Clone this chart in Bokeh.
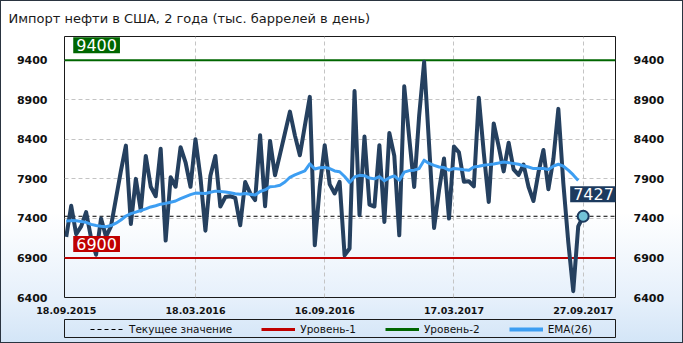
from bokeh.plotting import figure
from bokeh.layouts import column
from bokeh.models import Range1d, LinearAxis, FixedTicker, Legend, LegendItem, Label, Title, Span
from bokeh.embed import file_html
from bokeh.resources import INLINE

title_text = "Импорт нефти в США, 2 года (тыс. баррелей в день)"
tick_labels = ["18.09.2015", "18.03.2016", "16.09.2016", "17.03.2017", "27.09.2017"]
tick_index = [0, 26, 52, 78, 104]
y_ticks = [6400, 6900, 7400, 7900, 8400, 8900, 9400]
level1 = 6900
level2 = 9400

imports = [
    7166, 7560, 7200, 7300, 7480, 7150, 6940, 7400, 7170, 7300,
    7650, 8000, 8320, 7330, 7900, 7500, 8190, 7800, 7680, 8280,
    7120, 7920, 7800, 8300, 8110, 7800, 8400, 7920, 7245, 7940,
    8190, 7550, 7670, 7680, 7660, 7314, 7860, 7720, 7630, 8452,
    7554, 8380, 7946, 8210, 8480, 8750, 8450, 8199, 8570, 8937,
    7061, 7800, 8326, 7830, 7715, 7862, 6934, 7019, 9010, 7440,
    8435, 7575, 7550, 8326, 7356, 8480, 8190, 7187, 9070, 8420,
    7798, 8700, 9380, 8330, 7280, 7756, 8157, 7398, 8310, 8235,
    7863, 7870, 7805, 8925, 8230, 7608, 8600, 8310, 7995, 8357,
    8020, 7950, 8080, 7800, 7620, 7980, 8265, 7770, 8150, 8785,
    7850, 7100, 6480, 7300, 7427,
]

ema26 = [
    7368, 7372, 7370, 7362, 7350, 7325, 7310, 7300, 7295, 7310,
    7340, 7380, 7430, 7460, 7480, 7500, 7520, 7545, 7560, 7580,
    7590, 7605, 7620, 7650, 7675, 7700, 7720, 7718, 7715, 7730,
    7745, 7740, 7735, 7725, 7712, 7706, 7714, 7705, 7695, 7740,
    7760, 7800, 7805, 7820, 7860, 7920, 7950, 7975, 8000, 8090,
    8025, 8040, 8045, 8030, 8000, 7990, 7930, 7855, 7925, 7945,
    7940, 7910, 7900, 7928, 7875, 7915, 7937, 7883, 7985, 8005,
    8010, 8030, 8136, 8095, 8070, 8050, 8043, 8010, 8031, 8025,
    8015, 8010, 8051, 8060, 8072, 8080, 8088, 8100, 8114, 8105,
    8093, 8085, 8065, 8050, 8030, 8030, 8030, 8018, 8060, 8085,
    8060, 8010, 7950, 7880,
]

xs = list(range(len(imports)))
current = imports[-1]

FONT = "DejaVu Sans"
LINE = "#1a1a1a"
C_MAIN = "#25405f"
C_EMA = "#3d9ef2"
C_L1 = "#c00000"
C_L2 = "#006600"
C_CUR = "#1c3a5e"

# ---------------- main chart ----------------
p = figure(width=683, height=319, output_backend="svg", toolbar_location=None,
           x_range=Range1d(-0.35, 110.5), y_range=Range1d(6400, 9700),
           min_border_left=64, min_border_right=68, min_border_top=36, min_border_bottom=22)
p.background_fill_alpha = 0
p.border_fill_alpha = 0
p.outline_line_color = LINE
p.outline_line_width = 1

t = Title(text=title_text, align="left", offset=-56, standoff=18, vertical_align="top",
          text_font=FONT, text_font_size="13px", text_font_style="normal", text_color="#1a1a1a")
p.add_layout(t, "above")

p.xgrid.ticker = FixedTicker(ticks=tick_index[1:])
p.ygrid.ticker = FixedTicker(ticks=y_ticks)
for g in (p.xgrid, p.ygrid):
    g.grid_line_color = "#c4c4c4"
    g.grid_line_dash = "4 3"
    g.grid_line_width = 1

p.xaxis.ticker = FixedTicker(ticks=tick_index)
p.xaxis.major_label_overrides = dict(zip(tick_index, tick_labels))
p.yaxis.ticker = FixedTicker(ticks=y_ticks)
ry = LinearAxis(ticker=FixedTicker(ticks=y_ticks))
p.add_layout(ry, "right")
for ax in (p.xaxis[0], p.yaxis[0], ry):
    ax.axis_line_color = None
    ax.major_tick_line_color = None
    ax.minor_tick_line_color = None
    ax.major_label_text_font = FONT
    ax.major_label_text_font_style = "bold"
    ax.major_label_text_color = "#111111"
p.xaxis.major_label_text_font_size = "9.5px"
p.xaxis.major_label_standoff = 3
p.yaxis[0].major_label_text_font_size = "11px"
p.yaxis[0].major_label_standoff = 11
ry.major_label_text_font_size = "11px"
ry.major_label_standoff = 12

for lv, col, w, dash in ((level1, C_L1, 2, "solid"), (level2, C_L2, 2, "solid"),
                         (current, "#000000", 1, "4 3")):
    p.add_layout(Span(location=lv, dimension="width", line_color=col, line_width=w,
                      line_dash=dash, level="underlay"))

p.line(xs, imports, line_color=C_MAIN, line_width=4, line_join="round")
p.line(xs[:len(ema26)], ema26, line_color=C_EMA, line_width=3, line_join="round")
p.scatter([xs[-1]], [current], size=11, fill_color="#72c3d8", line_color=C_CUR, line_width=2)

def box_label(xv, yv, txt, bg, xo, yo):
    return Label(x=xv, y=yv, text=txt, x_offset=xo, y_offset=yo, text_align="left",
                 text_baseline="bottom", text_color="white", text_font=FONT,
                 text_font_size="16px", background_fill_color=bg, padding=(3, 2))

p.add_layout(box_label(xs[0], level2, str(level2), C_L2, 7, 7))
p.add_layout(box_label(xs[0], level1, str(level1), C_L1, 7, 6))
p.add_layout(box_label(xs[-1], current, str(current), C_CUR, -13, 14))

# ---------------- legend strip ----------------
q = figure(width=683, height=24, output_backend="svg", toolbar_location=None,
           x_axis_location=None, y_axis_location=None,
           x_range=Range1d(0, 1), y_range=Range1d(0, 1),
           min_border_left=64, min_border_right=68, min_border_top=0, min_border_bottom=6)
q.background_fill_alpha = 0
q.border_fill_alpha = 0
q.outline_line_color = LINE
q.outline_line_width = 1
q.grid.visible = False

# single-point proxy lines: they draw nothing, they only carry the legend styles
leg_cur = q.line(x=[xs[-1]], y=[current], line_color="#000000", line_width=1, line_dash="4 3")
leg_l1 = q.line(x=[xs[0]], y=[level1], line_color=C_L1, line_width=3)
leg_l2 = q.line(x=[xs[0]], y=[level2], line_color=C_L2, line_width=3)
leg_ema = q.line(x=[xs[0]], y=[ema26[0]], line_color=C_EMA, line_width=4)

legend = Legend(items=[
    LegendItem(label="Текущее значение", renderers=[leg_cur]),
    LegendItem(label="Уровень-1", renderers=[leg_l1]),
    LegendItem(label="Уровень-2", renderers=[leg_l2]),
    LegendItem(label="EMA(26)", renderers=[leg_ema]),
], orientation="horizontal", location=(26, 0), margin=0, padding=1, spacing=29,
    glyph_width=34, glyph_height=16, label_height=16, label_standoff=5,
    border_line_color=None, background_fill_alpha=0,
    label_text_font=FONT, label_text_font_size="10.5px", label_text_color="#111111")
q.add_layout(legend)

lay = column(p, q, spacing=0)
lay.styles = {
    "background": "linear-gradient(to bottom, #ffffff 0%, #ffffff 62%, #e6f0fb 87%, #d3e5f7 100%)",
    "outline": "1px solid #2a3440",
    "outline-offset": "-1px",
}

open("out.html", "w").write(file_html(lay, INLINE))
